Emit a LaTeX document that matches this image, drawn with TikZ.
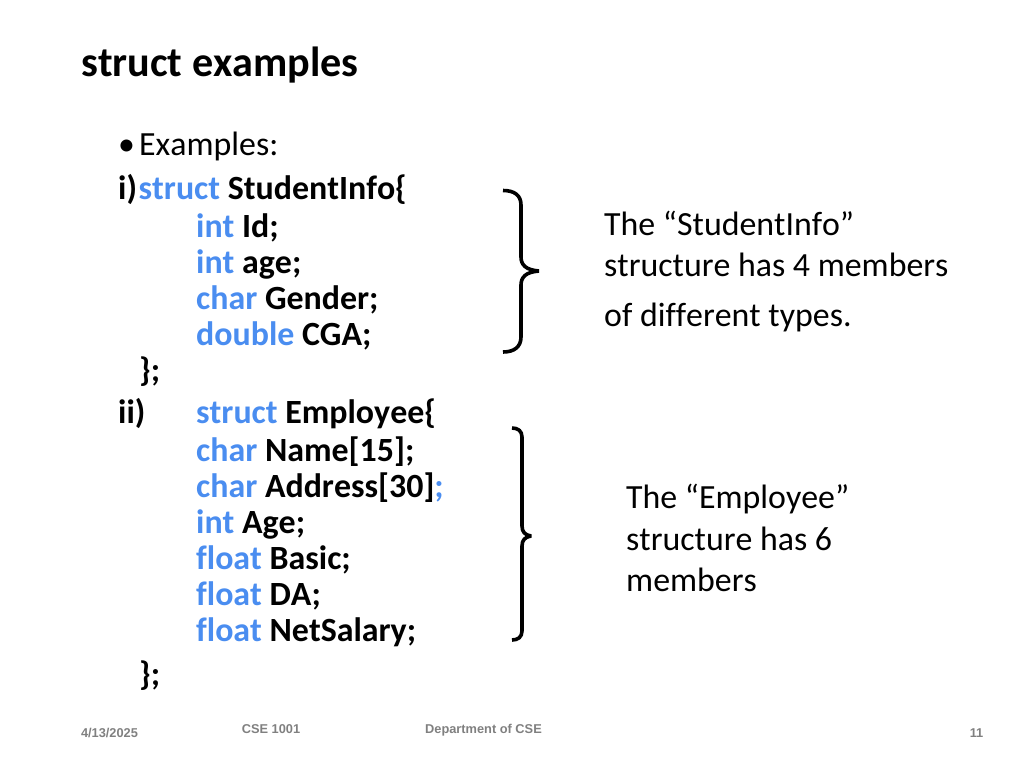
\documentclass[tikz,border=0pt]{standalone}
\usepackage{fontspec}
\setmainfont{Carlito}[Ligatures=NoCommon,Kerning=Off]
\newfontfamily\hel{Liberation Sans}
\definecolor{kw}{HTML}{4A8DF0}
\begin{document}
\begin{tikzpicture}[x=1pt,y=-1pt,
  txt/.style={anchor=base west,inner sep=0pt,font=\fontsize{33.85}{34}\selectfont},
  code/.style={anchor=base west,inner sep=0pt,font=\fontsize{33.9}{34}\selectfont\bfseries},
  foot/.style={anchor=base,inner sep=0pt,font=\hel\bfseries\fontsize{12.8}{13}\selectfont,text=black!50},
  brace/.style={draw=black,line width=3.6pt,line cap=butt,line join=bevel}]
\useasboundingbox (0,0) rectangle (1024,768);
\node[anchor=base west,inner sep=0pt,font=\fontsize{42.15}{42}\selectfont\bfseries] (title) at (81,76) {struct examples};
\node[txt] (bul) at (118,155) {•};
\node[txt] (ex) at (139,155) {Examples:};
\node[code] (l1) at (118,199) {i)\kern1.6pt\textcolor{kw}{struct} StudentInfo\{};
\node[code] (l2) at (196,237) {\textcolor{kw}{int} Id;};
\node[code] (l3) at (196,273) {\textcolor{kw}{int} age;};
\node[code] (l4) at (196,309) {\textcolor{kw}{char} Gender;};
\node[code] (l5) at (196,345) {\textcolor{kw}{double} CGA;};
\node[code] (l6) at (139,381) {\};};
\node[code] (l7a) at (118,423) {ii)};
\node[code] (l7) at (196,423) {\textcolor{kw}{struct} Employee\{};
\node[code] (l8) at (196,461) {\textcolor{kw}{char} Name[15];};
\node[code] (l9) at (196,497) {\textcolor{kw}{char} Address[30]\textcolor{kw}{;}};
\node[code] (l10) at (196,533) {\textcolor{kw}{int} Age;};
\node[code] (l11) at (196,569) {\textcolor{kw}{float} Basic;};
\node[code] (l12) at (196,605) {\textcolor{kw}{float} DA;};
\node[code] (l13) at (196,641) {\textcolor{kw}{float} NetSalary;};
\node[code] (l14) at (139,685) {\};};
\node[txt] (a1) at (604,235) {The “StudentInfo”};
\node[txt] (a2) at (604,276) {structure has 4 members};
\node[txt] (a3) at (604,326) {of different types.};
\node[txt] (b1) at (626,508) {The “Employee”};
\node[txt] (b2) at (626,550) {structure has 6};
\node[txt] (b3) at (626,591) {members};
\draw[brace] (503,190.5) .. controls (514,190.5) and (521,195) .. (521,205) -- (521,257) .. controls (521,265) and (526,270) .. (539,271) .. controls (526,272) and (521,277) .. (521,285) -- (521,337) .. controls (521,347) and (514,352) .. (503,352);
\draw[brace] (512,428) .. controls (518,428) and (522,431) .. (522,437) -- (522,526) .. controls (522,532) and (525,535) .. (531,536) .. controls (525,537) and (522,540) .. (522,546) -- (522,631) .. controls (522,637) and (518,640) .. (512,640);
\node[foot] (f1) at (109.5,737) {4/13/2025};
\node[foot] (f2) at (271,733) {CSE 1001};
\node[foot] (f3) at (483.5,733) {Department of CSE};
\node[foot] (f4) at (976.5,737) {11};
\end{tikzpicture}
\end{document}
